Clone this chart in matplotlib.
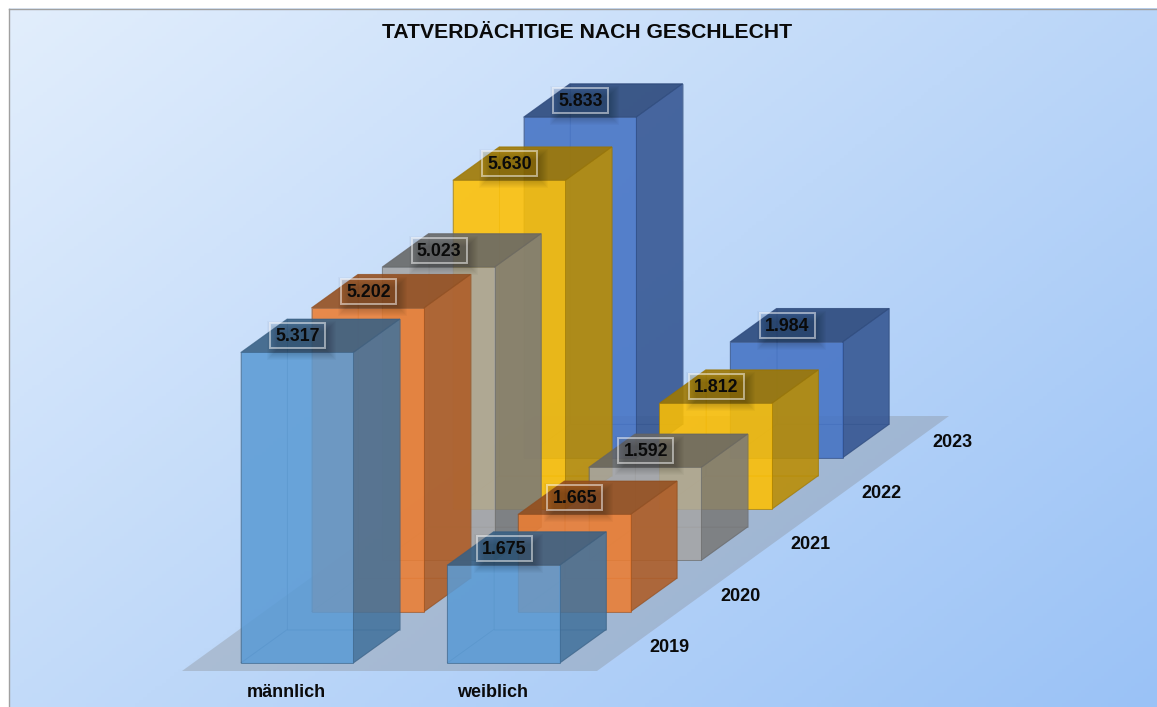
#!/usr/bin/env python3
import matplotlib
matplotlib.use('Agg')
import matplotlib.pyplot as plt
import numpy as np
from matplotlib.colors import to_rgb
from matplotlib.patches import Polygon, Rectangle

plt.rcParams['font.family'] = ['Liberation Sans', 'DejaVu Sans']

# Data
groups = ['männlich', 'weiblich']
years = ['2019', '2020', '2021', '2022', '2023']
maennlich = [5317, 5202, 5023, 5630, 5833]
weiblich = [1675, 1665, 1592, 1812, 1984]
colors = ['#5b9bd5', '#ed7d31', '#a5a5a5', '#ffc000', '#4472c4']

# Oblique projection, everything in image pixels
W, H = 1157, 707
x0, y0 = 240.8, 663      # front left foot of first bar
bar_w = 112.5
group_step = 206.5
year_dx, year_dy = 70.7, -51.3
depth_dx, depth_dy = 46.5, -33.5
y_scale = 0.0584         # pixels per case


def shade(color, f):
    return tuple(c * f for c in to_rgb(color))


def face(ax, pts, fc, alpha, edge, z, edge_alpha=0.55):
    ax.add_patch(Polygon(pts, closed=True, facecolor=(*fc, alpha),
                         edgecolor=(*edge, edge_alpha), linewidth=0.7, zorder=z))


def draw_bar(ax, g, y, value, color, z):
    left = x0 + g * group_step + y * year_dx
    base = y0 + y * year_dy
    right = left + bar_w
    top = base - value * y_scale
    dx, dy = depth_dx, depth_dy
    fc = to_rgb(color)
    edge = shade(color, 0.6)

    # hidden faces first, they show through
    face(ax, [(left+dx, base+dy), (right+dx, base+dy), (right+dx, top+dy), (left+dx, top+dy)], fc, 0.12, edge, z, 0.3)
    face(ax, [(left, base), (left+dx, base+dy), (left+dx, top+dy), (left, top)], fc, 0.12, edge, z, 0.3)
    face(ax, [(left, base), (right, base), (right+dx, base+dy), (left+dx, base+dy)], fc, 0.12, edge, z, 0.3)
    # visible faces
    face(ax, [(right, base), (right+dx, base+dy), (right+dx, top+dy), (right, top)], shade(color, 0.73), 0.85, edge, z)
    face(ax, [(left, top), (right, top), (right+dx, top+dy), (left+dx, top+dy)], shade(color, 0.62), 0.88, edge, z)
    face(ax, [(left, base), (right, base), (right, top), (left, top)], fc, 0.85, edge, z)


def draw_label(ax, g, y, value, color):
    cx = x0 + g * group_step + y * year_dx + bar_w / 2 + 0.7
    cy = y0 + y * year_dy - value * y_scale - 16.5
    bw, bh = 55, 25
    # soft shadow below the box
    for grow in range(7, -4, -1):
        ax.add_patch(Rectangle((cx - bw/2 + 4 - grow, cy - bh/2 + 5 - grow), bw + 2*grow, bh + 2*grow,
                               facecolor=(0, 0, 0, 0.022), edgecolor='none', zorder=50))
    ax.add_patch(Rectangle((cx - bw/2, cy - bh/2), bw, bh, facecolor=(*shade(color, 1.0), 0.12),
                           edgecolor=(1, 1, 1, 0.5), linewidth=1.4, zorder=51))
    text = f'{value:,}'.replace(',', '.')
    ax.text(cx, cy + 1, text, ha='center', va='center', fontsize=12.8, fontweight='bold',
            color='#0a0a0a', zorder=52)


fig = plt.figure(figsize=(W / 100, H / 100), dpi=100, facecolor='white')
ax = fig.add_axes([0, 0, 1, 1])
ax.set_xlim(0, W)
ax.set_ylim(H, 0)
ax.axis('off')

# Diagonal background gradient
gx, gy = np.meshgrid(np.linspace(0, 1, 300), np.linspace(0, 1, 200))
t = (gx * 0.56 + gy * 0.44)[..., None]
c1, c2 = np.array(to_rgb('#e2eefc')), np.array(to_rgb('#9ac2f6'))
ax.imshow(c1 + (c2 - c1) * t, extent=(8.5, W, H, 8.5), aspect='auto', zorder=0)
ax.set_xlim(0, W)
ax.set_ylim(H, 0)
ax.plot([8.5, 8.5], [H, 8.5], color='#a0a0a0', lw=1.0, zorder=1)
ax.plot([8.5, W], [8.5, 8.5], color='#a0a0a0', lw=1.0, zorder=1)

# Floor
floor_pad = 8
fl, fr = 182, 597
fb = y0 + floor_pad
back_x = 5 * year_dx - 1.5
back_y = 5 * year_dy + 1.5
ax.add_patch(Polygon([(fl, fb), (fr, fb), (fr + back_x, fb + back_y), (fl + back_x, fb + back_y)],
                     closed=True, facecolor=(0.5, 0.5, 0.5, 0.3), edgecolor='none', zorder=2))

# Bars back to front
series = [maennlich, weiblich]
z = 10
for y in range(len(years) - 1, -1, -1):
    for g in range(len(groups)):
        draw_bar(ax, g, y, series[g][y], colors[y], z)
        z += 1

for y in range(len(years)):
    for g in range(len(groups)):
        draw_label(ax, g, y, series[g][y], colors[y])

ax.text(587.5, 33, 'TATVERDÄCHTIGE NACH GESCHLECHT', ha='center', va='center',
        fontsize=15.2, fontweight='bold', color='#0a0a0a', zorder=60)

for g, name in enumerate(groups):
    ax.text(286 + g * group_step, 692.5, name, ha='center', va='center',
            fontsize=13, fontweight='bold', color='#0a0a0a', zorder=60)

for y, name in enumerate(years):
    ax.text(669.5 + y * year_dx, 647.5 + y * year_dy, name, ha='center', va='center',
            fontsize=13, fontweight='bold', color='#0a0a0a', zorder=60)

fig.savefig('out.png', dpi=100)
